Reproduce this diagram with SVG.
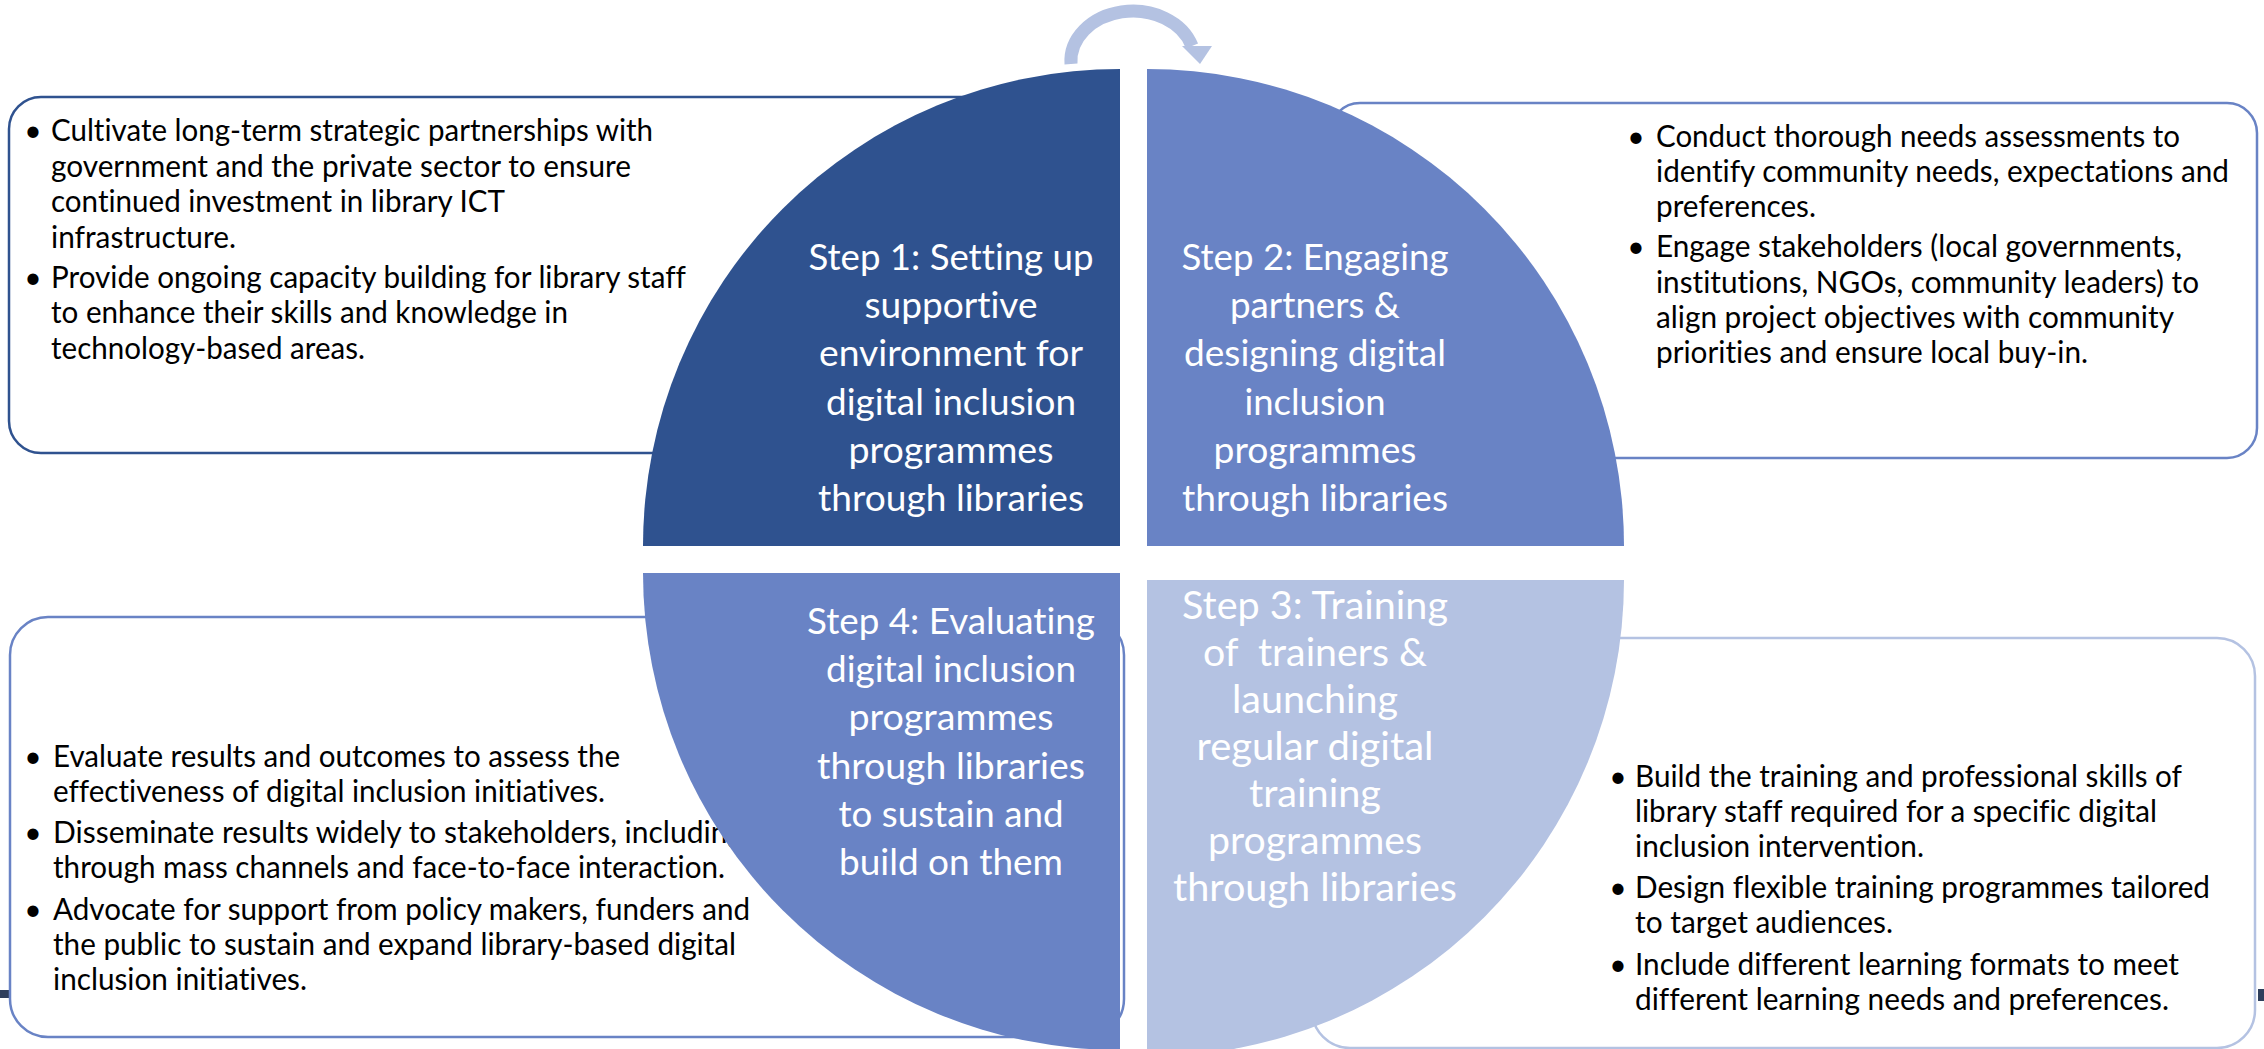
<svg xmlns="http://www.w3.org/2000/svg" width="2264" height="1049" viewBox="0 0 2264 1049">
<style>
.bg{fill:#ffffff}
.q1{fill:#2F528F}
.q2{fill:#6983C5}
.q3{fill:#B4C2E2}
.box{fill:#ffffff;stroke-width:2.5}
text{font-variant-ligatures:none}
.bt{font-family:Lato,'Liberation Sans',sans-serif;font-size:30px;fill:#000000}
.bu{font-family:Lato,'Liberation Sans',sans-serif;font-size:30px;fill:#000000;text-anchor:middle}
.st{font-family:Lato,'Liberation Sans',sans-serif;font-size:37px;fill:#ffffff;text-anchor:middle}
.st3{font-family:Lato,'Liberation Sans',sans-serif;font-size:39px;fill:#ffffff;text-anchor:middle}
.mark{fill:#2E3E5C}
</style>
<rect class="bg" x="0" y="0" width="2264" height="1049"/>
<rect class="mark" x="0" y="990" width="9" height="8"/>
<rect class="mark" x="2258" y="989" width="6" height="12"/>

<g id="box1">
<rect class="box" x="9" y="97" width="1000" height="356" rx="32" stroke="#2F528F"/>
<text class="bu" x="33" y="141">•</text>
<text class="bt" x="51" y="141" textLength="602" lengthAdjust="spacingAndGlyphs">Cultivate long-term strategic partnerships with</text>
<text class="bt" x="51" y="176.5" textLength="580" lengthAdjust="spacingAndGlyphs">government and the private sector to ensure</text>
<text class="bt" x="51" y="212" textLength="454" lengthAdjust="spacingAndGlyphs">continued investment in library ICT</text>
<text class="bt" x="51" y="247.5" textLength="185" lengthAdjust="spacingAndGlyphs">infrastructure.</text>
<text class="bu" x="33" y="287.5">•</text>
<text class="bt" x="51" y="287.5" textLength="635" lengthAdjust="spacingAndGlyphs">Provide ongoing capacity building for library staff</text>
<text class="bt" x="51" y="323" textLength="517" lengthAdjust="spacingAndGlyphs">to enhance their skills and knowledge in</text>
<text class="bt" x="51" y="358.5" textLength="314" lengthAdjust="spacingAndGlyphs">technology-based areas.</text>
</g>

<g id="box2">
<rect class="box" x="1330" y="103" width="927" height="355" rx="30" stroke="#6983C5"/>
<text class="bu" x="1636" y="147">•</text>
<text class="bt" x="1656" y="147" textLength="524" lengthAdjust="spacingAndGlyphs">Conduct thorough needs assessments to</text>
<text class="bt" x="1656" y="182" textLength="573" lengthAdjust="spacingAndGlyphs">identify community needs, expectations and</text>
<text class="bt" x="1656" y="217" textLength="160" lengthAdjust="spacingAndGlyphs">preferences.</text>
<text class="bu" x="1636" y="257">•</text>
<text class="bt" x="1656" y="257" textLength="526" lengthAdjust="spacingAndGlyphs">Engage stakeholders (local governments,</text>
<text class="bt" x="1656" y="293" textLength="543" lengthAdjust="spacingAndGlyphs">institutions, NGOs, community leaders) to</text>
<text class="bt" x="1656" y="328" textLength="518" lengthAdjust="spacingAndGlyphs">align project objectives with community</text>
<text class="bt" x="1656" y="363" textLength="432" lengthAdjust="spacingAndGlyphs">priorities and ensure local buy-in.</text>
</g>

<g id="box3">
<rect class="box" x="1312" y="638" width="943" height="410" rx="38" stroke="#B4C2E2"/>
<text class="bu" x="1618" y="787">•</text>
<text class="bt" x="1635" y="787" textLength="547" lengthAdjust="spacingAndGlyphs">Build the training and professional skills of</text>
<text class="bt" x="1635" y="822" textLength="522" lengthAdjust="spacingAndGlyphs">library staff required for a specific digital</text>
<text class="bt" x="1635" y="857" textLength="289" lengthAdjust="spacingAndGlyphs">inclusion intervention.</text>
<text class="bu" x="1618" y="898">•</text>
<text class="bt" x="1635" y="898" textLength="575" lengthAdjust="spacingAndGlyphs">Design flexible training programmes tailored</text>
<text class="bt" x="1635" y="933" textLength="258" lengthAdjust="spacingAndGlyphs">to target audiences.</text>
<text class="bu" x="1618" y="975">•</text>
<text class="bt" x="1635" y="975" textLength="544" lengthAdjust="spacingAndGlyphs">Include different learning formats to meet</text>
<text class="bt" x="1635" y="1010" textLength="534" lengthAdjust="spacingAndGlyphs">different learning needs and preferences.</text>
</g>

<g id="box4">
<rect class="box" x="10" y="617" width="1114" height="420" rx="38" stroke="#6983C5"/>
<text class="bu" x="33" y="767">•</text>
<text class="bt" x="53" y="767" textLength="567" lengthAdjust="spacingAndGlyphs">Evaluate results and outcomes to assess the</text>
<text class="bt" x="53" y="802" textLength="552" lengthAdjust="spacingAndGlyphs">effectiveness of digital inclusion initiatives.</text>
<text class="bu" x="33" y="843">•</text>
<text class="bt" x="53" y="843" textLength="690" lengthAdjust="spacingAndGlyphs">Disseminate results widely to stakeholders, including</text>
<text class="bt" x="53" y="878" textLength="672" lengthAdjust="spacingAndGlyphs">through mass channels and face-to-face interaction.</text>
<text class="bu" x="33" y="920">•</text>
<text class="bt" x="53" y="920" textLength="697" lengthAdjust="spacingAndGlyphs">Advocate for support from policy makers, funders and</text>
<text class="bt" x="53" y="955" textLength="683" lengthAdjust="spacingAndGlyphs">the public to sustain and expand library-based digital</text>
<text class="bt" x="53" y="990" textLength="254" lengthAdjust="spacingAndGlyphs">inclusion initiatives.</text>
</g>

<g id="step1">
<path class="q1" d="M1120,546 L643,546 A477,477 0 0 1 1120,69 Z"/>
<text class="st" x="951" y="270" textLength="285" lengthAdjust="spacingAndGlyphs">Step 1: Setting up</text>
<text class="st" x="951" y="318" textLength="173" lengthAdjust="spacingAndGlyphs">supportive</text>
<text class="st" x="951" y="366" textLength="264" lengthAdjust="spacingAndGlyphs">environment for</text>
<text class="st" x="951" y="415" textLength="250" lengthAdjust="spacingAndGlyphs">digital inclusion</text>
<text class="st" x="951" y="463" textLength="205" lengthAdjust="spacingAndGlyphs">programmes</text>
<text class="st" x="951" y="511" textLength="266" lengthAdjust="spacingAndGlyphs">through libraries</text>
</g>

<g id="step2">
<path class="q2" d="M1147,546 L1147,69 A477,477 0 0 1 1624,546 Z"/>
<text class="st" x="1315" y="270" textLength="267" lengthAdjust="spacingAndGlyphs">Step 2: Engaging</text>
<text class="st" x="1315" y="318" textLength="170" lengthAdjust="spacingAndGlyphs">partners &amp;</text>
<text class="st" x="1315" y="366" textLength="262" lengthAdjust="spacingAndGlyphs">designing digital</text>
<text class="st" x="1315" y="415" textLength="141" lengthAdjust="spacingAndGlyphs">inclusion</text>
<text class="st" x="1315" y="463" textLength="203" lengthAdjust="spacingAndGlyphs">programmes</text>
<text class="st" x="1315" y="511" textLength="266" lengthAdjust="spacingAndGlyphs">through libraries</text>
</g>

<g id="step3">
<path class="q3" d="M1147,580 L1624,580 A477,477 0 0 1 1147,1057 Z"/>
<text class="st3" x="1315" y="619" textLength="266" lengthAdjust="spacingAndGlyphs">Step 3: Training</text>
<text class="st3" x="1315" y="666" textLength="224" lengthAdjust="spacingAndGlyphs" xml:space="preserve">of  trainers &amp;</text>
<text class="st3" x="1315" y="713" textLength="166" lengthAdjust="spacingAndGlyphs">launching</text>
<text class="st3" x="1315" y="760" textLength="237" lengthAdjust="spacingAndGlyphs">regular digital</text>
<text class="st3" x="1315" y="807" textLength="132" lengthAdjust="spacingAndGlyphs">training</text>
<text class="st3" x="1315" y="854" textLength="214" lengthAdjust="spacingAndGlyphs">programmes</text>
<text class="st3" x="1315" y="901" textLength="284" lengthAdjust="spacingAndGlyphs">through libraries</text>
</g>

<g id="step4">
<path class="q2" d="M1120,573 L1120,1050 A477,477 0 0 1 643,573 Z"/>
<text class="st" x="951" y="634" textLength="288" lengthAdjust="spacingAndGlyphs">Step 4: Evaluating</text>
<text class="st" x="951" y="682" textLength="250" lengthAdjust="spacingAndGlyphs">digital inclusion</text>
<text class="st" x="951" y="730" textLength="205" lengthAdjust="spacingAndGlyphs">programmes</text>
<text class="st" x="951" y="779" textLength="268" lengthAdjust="spacingAndGlyphs">through libraries</text>
<text class="st" x="951" y="827" textLength="225" lengthAdjust="spacingAndGlyphs">to sustain and</text>
<text class="st" x="951" y="875" textLength="224" lengthAdjust="spacingAndGlyphs">build on them</text>
</g>

<g id="connectors">
<path d="M1071,64 A62,50 0 0 1 1192,46" fill="none" stroke="#B4C2E2" stroke-width="13"/>
<polygon points="1182,46 1212,46 1200,64" fill="#B4C2E2"/>
</g>
</svg>
